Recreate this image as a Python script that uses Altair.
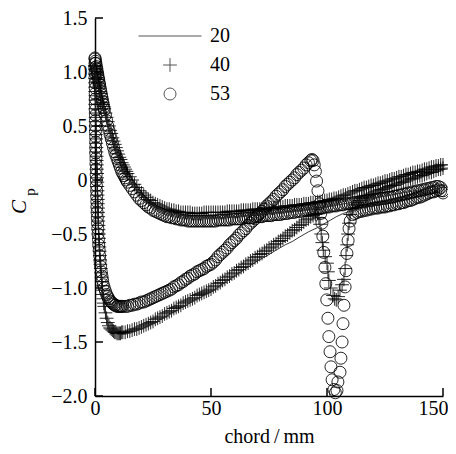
import altair as alt
import pandas as pd

# ---- values (x = chord in mm, Cp) ----
s53_suction = [
    (0.0,1.13),(0.0,1.08),(0.0,1.04),(0.0,0.99),(0.0,0.95),(0.1,0.90),(0.1,0.85),(0.1,0.80),(0.1,0.75),
    (0.1,0.70),(0.1,0.65),(0.2,0.60),(0.2,0.55),(0.2,0.50),(0.2,0.45),(0.3,0.40),(0.3,0.35),(0.3,0.30),
    (0.3,0.25),(0.4,0.20),(0.4,0.15),(0.5,0.10),(0.5,0.05),(0.6,0.00),(0.6,-0.05),(0.7,-0.10),(0.7,-0.15),
    (0.8,-0.20),(0.8,-0.25),(0.9,-0.30),(1.0,-0.35),(1.1,-0.40),(1.2,-0.45),(1.3,-0.50),(1.5,-0.55),
    (1.6,-0.60),(1.8,-0.65),(2.0,-0.70),(2.2,-0.75),(2.4,-0.80),(2.7,-0.85),(3.0,-0.89),(3.3,-0.93),
    (3.6,-0.97),(4.0,-1.00),(4.5,-1.03),(5.0,-1.06),(5.5,-1.08),(6.0,-1.10),(6.5,-1.12),(7.0,-1.13),
    (7.5,-1.14),(8.0,-1.15),(8.5,-1.16),(9.0,-1.16),(9.5,-1.17),(10.0,-1.17),(10.5,-1.17),(11.0,-1.17),
    (11.5,-1.17),(12,-1.17),(13,-1.17),(14,-1.17),(15,-1.16),(16,-1.16),(17,-1.15),(18,-1.15),(19,-1.14),
    (20,-1.13),(21,-1.13),(22,-1.12),(23,-1.11),(24,-1.10),(25,-1.09),(26,-1.08),(27,-1.07),(28,-1.06),
    (29,-1.05),(30,-1.04),(31,-1.03),(32,-1.02),(33,-1.01),(34,-0.99),(35,-0.98),(36,-0.97),(37,-0.95),
    (38,-0.94),(39,-0.92),(40,-0.91),(41,-0.89),(42,-0.88),(43,-0.87),(44,-0.85),(45,-0.84),(46,-0.83),
    (47,-0.82),(48,-0.80),(49,-0.79),(50,-0.78),(51,-0.76),(52,-0.74),(53,-0.71),(54,-0.69),(55,-0.67),
    (56,-0.65),(57,-0.63),(58,-0.60),(59,-0.58),(60,-0.56),(61,-0.54),(62,-0.51),(63,-0.49),(64,-0.47),
    (65,-0.45),(66,-0.42),(67,-0.40),(68,-0.38),(69,-0.36),(70,-0.33),(71,-0.31),(72,-0.29),(73,-0.27),
    (74,-0.24),(75,-0.22),(76,-0.20),(77,-0.18),(78,-0.15),(79,-0.13),(80,-0.11),(81,-0.09),(82,-0.06),
    (83,-0.04),(84,-0.02),(85,0.00),(86,0.02),(87,0.05),(88,0.07),(89,0.09),(90,0.11),(91,0.14),
    (92,0.16),(93,0.18),(93.5,0.19),(94.0,0.18),(94.5,0.14),(95.0,0.08),(95.5,-0.01),(96.1,-0.10),
    (96.8,-0.22),(97.3,-0.31),(97.8,-0.40),(98.2,-0.52),(98.6,-0.67),(99.1,-0.81),(99.5,-0.96),
    (99.9,-1.11),(100.4,-1.28),(100.8,-1.45),(101.3,-1.59),(101.7,-1.73),(102.2,-1.85),(103.0,-1.94),
    (103.6,-1.97),(104.3,-1.95),(104.7,-1.87),(105.6,-1.78),(106.0,-1.65),(106.5,-1.50),(106.9,-1.33),
    (107.3,-1.16),(107.8,-0.99),(108.2,-0.84),(108.6,-0.68),(109.1,-0.56),(109.5,-0.45),(110,-0.38),
    (111,-0.32),(112,-0.31),(113,-0.30),(114,-0.29),(115,-0.29),(116,-0.28),(117,-0.28),(118,-0.27),
    (119,-0.27),(120,-0.26),(121,-0.26),(122,-0.26),(123,-0.25),(124,-0.25),(125,-0.25),(126,-0.24),
    (127,-0.24),(128,-0.23),(129,-0.23),(130,-0.22),(131,-0.22),(132,-0.21),(133,-0.21),(134,-0.20),
    (135,-0.19),(136,-0.19),(137,-0.18),(138,-0.17),(139,-0.16),(140,-0.16),(141,-0.15),(142,-0.14),
    (143,-0.13),(144,-0.12),(145,-0.11),(146,-0.11),(147,-0.10),(148,-0.09),(149,-0.10),(150,-0.12)]

s53_pressure = [
    (0.0,1.12),(0.2,1.10),(0.4,1.08),(0.6,1.05),(0.8,1.03),(1.0,1.00),(1.2,0.98),(1.4,0.95),(1.6,0.93),
    (1.8,0.90),(2.0,0.88),(2.25,0.85),(2.5,0.82),(2.75,0.79),(3.0,0.76),(3.25,0.73),(3.5,0.70),(3.75,0.67),
    (4.0,0.65),(4.5,0.60),(5.0,0.55),(5.5,0.50),(6.0,0.46),(6.5,0.42),(7.0,0.38),(7.5,0.34),(8.0,0.30),
    (8.5,0.26),(9.0,0.23),(9.5,0.20),(10.0,0.17),(10.5,0.14),(11.0,0.11),(11.5,0.08),(12.0,0.06),
    (12.5,0.04),(13.0,0.02),(13.5,0.00),(14.0,-0.02),(15,-0.05),(16,-0.08),(17,-0.11),(18,-0.14),
    (19,-0.17),(20,-0.19),(21,-0.21),(22,-0.23),(23,-0.25),(24,-0.26),(25,-0.28),(26,-0.29),(27,-0.30),
    (28,-0.31),(29,-0.32),(30,-0.33),(31,-0.34),(32,-0.34),(33,-0.35),(34,-0.35),(35,-0.36),(36,-0.36),
    (37,-0.37),(38,-0.37),(39,-0.37),(40,-0.38),(41,-0.38),(42,-0.38),(43,-0.38),(44,-0.38),(45,-0.38),
    (46,-0.38),(47,-0.38),(48,-0.38),(49,-0.38),(50,-0.38),(51,-0.38),(52,-0.38),(53,-0.37),(54,-0.37),
    (55,-0.37),(56,-0.37),(57,-0.37),(58,-0.37),(59,-0.36),(60,-0.36),(61,-0.36),(62,-0.36),(63,-0.36),
    (64,-0.35),(65,-0.35),(66,-0.35),(67,-0.35),(68,-0.35),(69,-0.34),(70,-0.34),(71,-0.34),(72,-0.34),
    (73,-0.33),(74,-0.33),(75,-0.33),(76,-0.33),(77,-0.32),(78,-0.32),(79,-0.32),(80,-0.32),(81,-0.31),
    (82,-0.31),(83,-0.31),(84,-0.30),(85,-0.30),(86,-0.30),(87,-0.29),(88,-0.29),(89,-0.29),(90,-0.28),
    (91,-0.28),(92,-0.28),(93,-0.27),(94,-0.27),(95,-0.27),(96,-0.26),(97,-0.26),(98,-0.26),(99,-0.25),
    (100,-0.25),(101,-0.25),(102,-0.24),(103,-0.24),(104,-0.24),(105,-0.23),(106,-0.23),(107,-0.23),
    (108,-0.22),(109,-0.22),(110,-0.22),(111,-0.21),(112,-0.21),(113,-0.21),(114,-0.20),(115,-0.20),
    (116,-0.20),(117,-0.19),(118,-0.19),(119,-0.19),(120,-0.18),(121,-0.18),(122,-0.18),(123,-0.17),
    (124,-0.17),(125,-0.17),(126,-0.16),(127,-0.16),(128,-0.16),(129,-0.15),(130,-0.15),(131,-0.14),
    (132,-0.14),(133,-0.13),(134,-0.13),(135,-0.12),(136,-0.12),(137,-0.11),(138,-0.11),(139,-0.10),
    (140,-0.10),(141,-0.09),(142,-0.09),(143,-0.08),(144,-0.08),(145,-0.07),(146,-0.07),(147,-0.06),
    (148,-0.06),(149,-0.07),(150,-0.10)]

s40_suction = [
    (0.0,1.06),(0.0,1.02),(0.0,0.98),(0.1,0.94),(0.1,0.90),(0.1,0.86),(0.1,0.82),(0.2,0.78),(0.2,0.74),
    (0.2,0.70),(0.2,0.66),(0.3,0.62),(0.3,0.58),(0.3,0.54),(0.3,0.50),(0.4,0.46),(0.4,0.42),(0.5,0.38),
    (0.5,0.34),(0.6,0.30),(0.6,0.26),(0.7,0.22),(0.7,0.18),(0.8,0.14),(0.8,0.10),(0.9,0.06),(0.9,0.02),
    (1.0,-0.02),(1.0,-0.06),(1.1,-0.10),(1.1,-0.14),(1.2,-0.18),(1.2,-0.22),(1.3,-0.26),(1.3,-0.30),
    (1.4,-0.34),(1.4,-0.38),(1.5,-0.42),(1.5,-0.46),(1.6,-0.50),(1.7,-0.54),(1.8,-0.58),(1.9,-0.62),
    (2.0,-0.66),(2.1,-0.70),(2.2,-0.74),(2.3,-0.78),(2.5,-0.82),(2.6,-0.86),(2.8,-0.90),(2.9,-0.94),
    (3.1,-0.98),(3.2,-1.02),(3.4,-1.06),(3.6,-1.10),(3.8,-1.14),(4.0,-1.17),(4.5,-1.23),(5.0,-1.28),
    (5.5,-1.32),(6.0,-1.35),(6.5,-1.37),(7.0,-1.38),(7.5,-1.39),(8.0,-1.40),(8.5,-1.41),(9.0,-1.41),
    (9.5,-1.42),(10.0,-1.42),(10.5,-1.42),(11.0,-1.42),(11.5,-1.41),(12,-1.41),(13,-1.41),(14,-1.40),
    (15,-1.40),(16,-1.39),(17,-1.38),(18,-1.38),(19,-1.37),(20,-1.36),(21,-1.35),(22,-1.34),(23,-1.33),
    (24,-1.32),(25,-1.31),(26,-1.29),(27,-1.28),(28,-1.27),(29,-1.26),(30,-1.24),(31,-1.23),(32,-1.22),
    (33,-1.21),(34,-1.19),(35,-1.18),(36,-1.17),(37,-1.16),(38,-1.14),(39,-1.13),(40,-1.12),(41,-1.11),
    (42,-1.10),(43,-1.09),(44,-1.07),(45,-1.06),(46,-1.05),(47,-1.04),(48,-1.03),(49,-1.02),(50,-1.01),
    (51,-0.99),(52,-0.98),(53,-0.96),(54,-0.95),(55,-0.93),(56,-0.92),(57,-0.90),(58,-0.89),(59,-0.87),
    (60,-0.86),(61,-0.84),(62,-0.83),(63,-0.81),(64,-0.80),(65,-0.78),(66,-0.77),(67,-0.75),(68,-0.74),
    (69,-0.72),(70,-0.71),(71,-0.69),(72,-0.68),(73,-0.66),(74,-0.65),(75,-0.63),(76,-0.62),(77,-0.60),
    (78,-0.59),(79,-0.57),(80,-0.56),(81,-0.54),(82,-0.52),(83,-0.51),(84,-0.49),(85,-0.47),(86,-0.46),
    (87,-0.44),(88,-0.42),(89,-0.41),(90,-0.39),(91,-0.37),(92,-0.36),(93,-0.34),(94,-0.33),(95,-0.32),
    (96,-0.31),(96.5,-0.35),(97.0,-0.41),(97.5,-0.50),(98.0,-0.58),(98.4,-0.65),(99.2,-0.71),(100.0,-0.77),
    (100.4,-0.85),(100.8,-0.93),(101.6,-1.00),(102.6,-1.07),(103.3,-1.10),(104.0,-1.11),(104.8,-1.08),
    (105.6,-1.02),(106.5,-0.97),(107.3,-0.92),(107.8,-0.82),(108.2,-0.70),(108.7,-0.60),(109.1,-0.50),
    (109.5,-0.40),(110,-0.32),(111,-0.26),(112,-0.23),(113,-0.21),(114,-0.19),(115,-0.17),(116,-0.16),
    (117,-0.15),(118,-0.14),(119,-0.13),(120,-0.12),(121,-0.11),(122,-0.10),(123,-0.09),(124,-0.09),
    (125,-0.08),(126,-0.07),(127,-0.06),(128,-0.05),(129,-0.05),(130,-0.04),(131,-0.03),(132,-0.02),
    (133,-0.02),(134,-0.01),(135,0.00),(136,0.01),(137,0.01),(138,0.02),(139,0.03),(140,0.04),(141,0.04),
    (142,0.05),(143,0.06),(144,0.07),(145,0.07),(146,0.08),(147,0.09),(148,0.10),(149,0.10),(150,0.11)]

s40_pressure = [
    (0.0,1.05),(0.2,1.03),(0.4,1.01),(0.6,0.99),(0.8,0.97),(1.0,0.95),(1.2,0.93),(1.4,0.91),(1.6,0.89),
    (1.8,0.87),(2.0,0.85),(2.25,0.82),(2.5,0.80),(2.75,0.77),(3.0,0.75),(3.25,0.72),(3.5,0.70),
    (3.75,0.68),(4.0,0.66),(4.5,0.62),(5.0,0.58),(5.5,0.54),(6.0,0.50),(6.5,0.46),(7.0,0.43),(7.5,0.39),
    (8.0,0.36),(8.5,0.33),(9.0,0.30),(9.5,0.27),(10.0,0.24),(10.5,0.21),(11.0,0.19),(11.5,0.16),
    (12.0,0.14),(12.5,0.12),(13.0,0.10),(13.5,0.08),(14.0,0.06),(15,0.03),(16,0.00),(17,-0.04),
    (18,-0.07),(19,-0.10),(20,-0.12),(21,-0.14),(22,-0.16),(23,-0.18),(24,-0.19),(25,-0.21),(26,-0.22),
    (27,-0.23),(28,-0.24),(29,-0.25),(30,-0.26),(31,-0.27),(32,-0.27),(33,-0.28),(34,-0.28),(35,-0.29),
    (36,-0.29),(37,-0.30),(38,-0.30),(39,-0.30),(40,-0.30),(41,-0.30),(42,-0.31),(43,-0.31),(44,-0.31),
    (45,-0.31),(46,-0.31),(47,-0.30),(48,-0.30),(49,-0.30),(50,-0.30),(51,-0.30),(52,-0.30),(53,-0.30),
    (54,-0.30),(55,-0.30),(56,-0.30),(57,-0.29),(58,-0.29),(59,-0.29),(60,-0.29),(61,-0.29),(62,-0.29),
    (63,-0.28),(64,-0.28),(65,-0.28),(66,-0.28),(67,-0.28),(68,-0.27),(69,-0.27),(70,-0.27),(71,-0.27),
    (72,-0.27),(73,-0.26),(74,-0.26),(75,-0.26),(76,-0.26),(77,-0.26),(78,-0.25),(79,-0.25),(80,-0.25),
    (81,-0.25),(82,-0.24),(83,-0.24),(84,-0.24),(85,-0.24),(86,-0.23),(87,-0.23),(88,-0.23),(89,-0.23),
    (90,-0.22),(91,-0.22),(92,-0.22),(93,-0.21),(94,-0.21),(95,-0.21),(96,-0.20),(97,-0.20),(98,-0.20),
    (99,-0.19),(100,-0.19),(101,-0.18),(102,-0.18),(103,-0.17),(104,-0.17),(105,-0.16),(106,-0.15),
    (107,-0.14),(108,-0.14),(109,-0.13),(110,-0.12),(111,-0.11),(112,-0.10),(113,-0.10),(114,-0.09),
    (115,-0.08),(116,-0.07),(117,-0.07),(118,-0.06),(119,-0.05),(120,-0.05),(121,-0.04),(122,-0.03),
    (123,-0.03),(124,-0.02),(125,-0.01),(126,-0.01),(127,0.00),(128,0.01),(129,0.01),(130,0.02),
    (131,0.03),(132,0.03),(133,0.04),(134,0.05),(135,0.05),(136,0.06),(137,0.07),(138,0.07),(139,0.08),
    (140,0.08),(141,0.09),(142,0.10),(143,0.10),(144,0.11),(145,0.12),(146,0.12),(147,0.13),(148,0.13),
    (149,0.14),(150,0.14)]

s20_suction = [
    (0.0,1.05),(0.2,0.70),(0.5,0.30),(0.9,0.00),(1.3,-0.30),(1.6,-0.50),(2.1,-0.70),(2.6,-0.86),
    (3.2,-1.02),(4.0,-1.18),(5.0,-1.29),(6.0,-1.36),(8.0,-1.41),(10.0,-1.43),(12,-1.43),(15,-1.42),
    (20,-1.38),(25,-1.33),(30,-1.27),(35,-1.21),(40,-1.15),(45,-1.09),(50,-1.04),(55,-0.96),(60,-0.89),
    (65,-0.82),(70,-0.75),(75,-0.69),(78,-0.65),(82,-0.60),(85,-0.57),(88,-0.53),(92,-0.48),(96,-0.44),
    (100,-0.39),(104,-0.34),(107,-0.31),(110,-0.29),(115,-0.26),(120,-0.24),(125,-0.21),(130,-0.18),
    (135,-0.15),(140,-0.12),(145,-0.09),(150,-0.07)]

s20_pressure = [
    (0.0,1.05),(0.5,0.98),(1.0,0.92),(2.0,0.82),(3.0,0.72),(4.0,0.63),(5.0,0.55),(6.0,0.47),(8.0,0.33),
    (10.0,0.21),(12.0,0.11),(14.0,0.03),(17.0,-0.07),(20.0,-0.14),(24.0,-0.21),(28.0,-0.26),(32.0,-0.30),
    (36.0,-0.32),(40.0,-0.34),(50.0,-0.35),(60.0,-0.34),(70.0,-0.32),(80.0,-0.30),(90.0,-0.28),
    (100.0,-0.25),(110.0,-0.21),(120.0,-0.17),(130.0,-0.13),(140.0,-0.09),(150.0,-0.05)]

series_names = ["20", "40", "53"]
x_ticks = [0, 50, 100, 150]
y_ticks = [-2.0, -1.5, -1.0, -0.5, 0.0, 0.5, 1.0, 1.5]


def frame(pairs, series, surface):
    return pd.DataFrame({"x": [p[0] for p in pairs], "cp": [p[1] for p in pairs],
                         "series": series, "surface": surface,
                         "idx": list(range(len(pairs)))})


pts = pd.concat([frame(s53_suction, "53", "s"), frame(s53_pressure, "53", "p"),
                 frame(s40_suction, "40", "s"), frame(s40_pressure, "40", "p")], ignore_index=True)
pts["order"] = range(len(pts))
lines = pd.concat([frame(s20_suction, "20", "s"), frame(s20_pressure, "20", "p")], ignore_index=True)

FONT = "Liberation Serif"
PLOT_H = 378
xs = alt.Scale(domain=[0, 150], nice=False, zero=False)
ys = alt.Scale(domain=[-2.0, 1.5], nice=False, zero=False)

xaxis = alt.Axis(values=x_ticks, ticks=False, grid=False, labelFont=FONT, labelFontSize=20,
                 labelColor="black", labelPadding=2, domainColor="black", domainWidth=1.5,
                 title="chord\u2009/\u2009mm", titleFont=FONT, titleFontSize=20,
                 titleFontWeight="normal", titleColor="black", titlePadding=8,
                 labelFlush=True, labelFlushOffset=5)
yaxis = alt.Axis(values=y_ticks, ticks=False, grid=False, labelFont=FONT, labelFontSize=20,
                 labelColor="black", labelPadding=8, domainColor="black", domainWidth=1.5,
                 title=None,
                 labelExpr="datum.value == 0 ? '0' : format(datum.value, '.1f')", labelFlush=False)

# one symbol size (12 px); the paths carry their own widths (line 63 px, plus 14 px)
points = alt.Chart(pts).mark_point(filled=False, strokeWidth=0.85, color="black", opacity=1,
                                   size=144).encode(
    x=alt.X("x:Q", scale=xs, axis=xaxis),
    y=alt.Y("cp:Q", scale=ys, axis=yaxis),
    shape=alt.Shape("series:N", scale=alt.Scale(domain=series_names,
                    range=["M-5.25,0L5.25,0", "M-1.15,0L1.15,0M0,-1.15L0,1.15", "circle"]),
                    legend=alt.Legend(title=None, orient="none", legendX=65, legendY=8,
                                      labelFont=FONT, labelFontSize=20, labelColor="black",
                                      labelOffset=30, rowPadding=9, padding=0, symbolSize=144,
                                      symbolStrokeWidth=1, symbolStrokeColor="#555")),
    order=alt.Order("order:Q"),
)

line = alt.Chart(lines).mark_line(strokeWidth=0.9, color="#222").encode(
    x=alt.X("x:Q", scale=xs),
    y=alt.Y("cp:Q", scale=ys),
    detail="surface:N",
    order="idx:Q",
)

xt = alt.Chart(pd.DataFrame({"v": x_ticks})).mark_rule(color="black", strokeWidth=1.5).encode(
    x=alt.X("v:Q", scale=xs), y=alt.value(PLOT_H), y2=alt.value(PLOT_H - 8))
yt = alt.Chart(pd.DataFrame({"v": y_ticks})).mark_rule(color="black", strokeWidth=1.5).encode(
    y=alt.Y("v:Q", scale=ys), x=alt.value(0), x2=alt.value(8))

c_txt = alt.Chart(pd.DataFrame({"t": ["C"]})).mark_text(
    angle=270, font=FONT, fontSize=21, fontStyle="italic", color="black",
    align="center", baseline="middle").encode(x=alt.value(-75), y=alt.value(189), text="t:N")
p_txt = alt.Chart(pd.DataFrame({"t": ["p"]})).mark_text(
    angle=270, font=FONT, fontSize=15, color="black",
    align="center", baseline="middle").encode(x=alt.value(-65), y=alt.value(174), text="t:N")

chart = alt.layer(points, line, xt, yt, c_txt, p_txt).properties(
    width=348, height=PLOT_H,
    autosize=alt.AutoSizeParams(type="none"),
    padding={"left": 87, "top": 10, "right": 5, "bottom": 50},
).configure_view(stroke=None)

chart.save("out.html", embed_options={"renderer": "svg", "actions": False})
